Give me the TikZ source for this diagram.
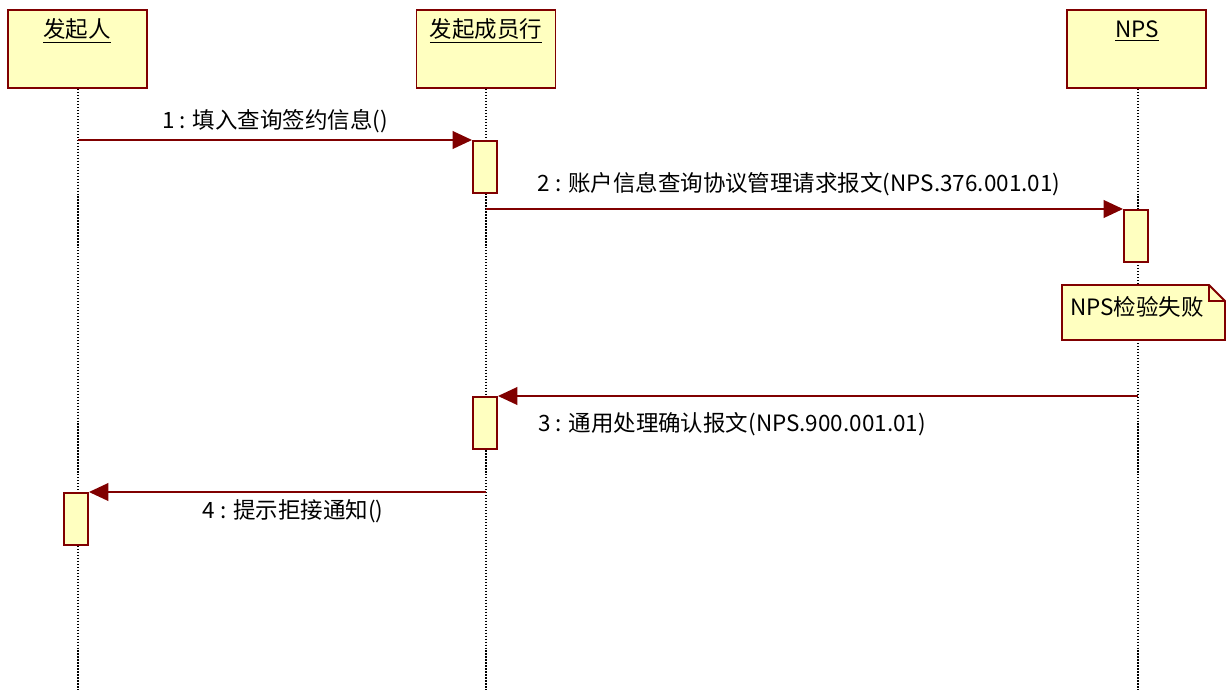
\documentclass[tikz,border=0pt]{standalone}
\usepackage{fontspec}
\setmainfont{Noto Sans CJK SC}
\usetikzlibrary{positioning,arrows.meta}
\definecolor{umlred}{RGB}{128,0,0}
\definecolor{umlfill}{RGB}{255,255,192}

\begin{document}
\begin{tikzpicture}[x=0.02cm, y=-0.02cm,
  every node/.style={inner sep=1.5pt},
  lifebox/.style={draw=umlred, fill=umlfill, line width=1.1pt, minimum width=2.78cm, minimum height=1.56cm},
  actbox/.style={draw=umlred, fill=umlfill, line width=1.1pt, minimum width=0.48cm, minimum height=1.04cm, anchor=north},
  lifeline/.style={black, densely dotted, line width=0.7pt},
  msg/.style={umlred, line width=1.1pt, -{Triangle[length=11pt,width=10pt]}},
  msgtext/.style={font=\fontsize{12.8}{15}\selectfont, text=black},
  notebox/.style={draw=umlred, fill=umlfill, line width=1.1pt, line join=miter}]
  \useasboundingbox (0,0) rectangle (1226,690);
  % participants
  \node[lifebox] (p1) at (77.5,49) {};
  \node[msgtext] (t1) at (77,31) {\underline{发起人}};
  \node[lifebox] (p2) at (486,49) {};
  \node[msgtext] (t2) at (486,31) {\underline{发起成员行}};
  \node[lifebox] (p3) at (1136.5,49) {};
  \node[msgtext] (t3) at (1137,31) {\underline{NPS}};
  % lifelines
  \coordinate (e1) at (78,690);
  \coordinate (e2) at (486,690);
  \coordinate (e3) at (1138,690);
  \draw[lifeline] (p1.south -| e1) -- (e1);
  \draw[lifeline] (p2.south -| e2) -- (e2);
  \draw[lifeline] (p3.south -| e3) -- (e3);
  % activations
  \node[actbox] (a1) at (485,140) {};
  \node[actbox] (a2) at (1136,209) {};
  \node[actbox] (a3) at (485,396) {};
  \node[actbox] (a4) at (76,492) {};
  % messages
  \coordinate (s1) at (78,140);
  \coordinate (s2) at (486,209);
  \coordinate (s3) at (1138,396);
  \coordinate (s4) at (486,492);
  \draw[msg] (s1) -- (a1.north west);
  \node[msgtext] (m1) at (275,121) {1 : 填入查询签约信息()};
  \draw[msg] (s2) -- (a2.north west);
  \node[msgtext] (m2) at (799,184) {2 : 账户信息查询协议管理请求报文(NPS.376.001.01)};
  \draw[msg] (s3) -- (a3.north east);
  \node[msgtext] (m3) at (732,424) {3 : 通用处理确认报文(NPS.900.001.01)};
  \draw[msg] (s4) -- (a4.north east);
  \node[msgtext] (m4) at (293,511) {4 : 提示拒接通知()};
  % note
  \draw[notebox] (1062,285) -- (1209,285) -- (1225,301) -- (1225,340) -- (1062,340) -- cycle;
  \draw[notebox, fill=none] (1209,285) -- (1209,301) -- (1225,301);
  \node[msgtext] (n1) at (1137,307) {NPS检验失败};
\end{tikzpicture}
\end{document}
